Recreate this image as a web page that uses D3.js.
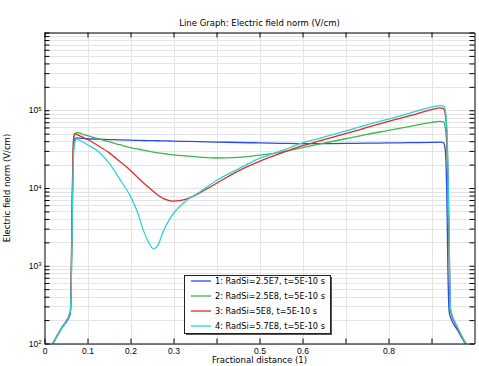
<!DOCTYPE html>
<html>
<head>
<meta charset="utf-8">
<script src="https://cdn.jsdelivr.net/npm/d3@7"></script>
<style>
  body { margin: 0; background: #fff; }
  svg { display: block; font-family: "DejaVu Sans", sans-serif; }
  .axis path, .axis line { stroke: #000; }
  .axis text { font-size: 8.5px; fill: #000; }
</style>
</head>
<body>
<svg id="chart" width="479" height="366"></svg>
<script>
// fractional distance, shared by all four curves
var xs = [0.0195, 0.04, 0.06, 0.062, 0.064, 0.066, 0.068, 0.071, 0.075, 0.08,
          0.1, 0.125, 0.15, 0.175, 0.2, 0.215, 0.23, 0.242, 0.2535, 0.265, 0.277, 0.29, 0.3, 0.33, 0.36,
          0.4, 0.45, 0.5, 0.55, 0.6, 0.65, 0.7, 0.75, 0.8, 0.85, 0.9,
          0.92, 0.928, 0.932, 0.936, 0.938, 0.941, 0.944, 0.96, 0.982];

var fieldRad25e7 = [100, 158, 240, 500, 3000, 1.5e4, 3.6e4, 4.3e4, 4.4e4, 4.38e4,
                    4.3e4, 4.25e4, 4.2e4, 4.15e4, 4.12e4, 4.1e4, 4.08e4, 4.07e4, 4.06e4, 4.05e4, 4.04e4, 4.02e4, 4.0e4, 3.97e4, 3.94e4,
                    3.9e4, 3.85e4, 3.8e4, 3.76e4, 3.72e4, 3.72e4, 3.74e4, 3.77e4, 3.8e4, 3.83e4, 3.86e4,
                    3.88e4, 3.8e4, 3.1e4, 6000, 1000, 260, 220, 150, 92];

var fieldRad25e8 = [100, 160, 250, 600, 4000, 2e4, 4.2e4, 5.0e4, 5.2e4, 5.1e4,
                    4.7e4, 4.3e4, 3.95e4, 3.6e4, 3.3e4, 3.18e4, 3.07e4, 2.98e4, 2.9e4, 2.83e4, 2.77e4, 2.71e4, 2.67e4, 2.58e4, 2.5e4,
                    2.43e4, 2.47e4, 2.65e4, 2.9e4, 3.3e4, 3.78e4, 4.3e4, 4.9e4, 5.5e4, 6.2e4, 7.0e4,
                    7.2e4, 7.1e4, 6.0e4, 3.0e4, 1.2e4, 1500, 270, 160, 95];

var fieldRad5e8 = [100, 160, 250, 700, 5000, 2.5e4, 4.5e4, 5.05e4, 4.9e4, 4.75e4,
                   4.2e4, 3.5e4, 2.85e4, 2.2e4, 1.68e4, 1.4e4, 1.17e4, 1.02e4, 9.0e3, 8.0e3, 7.3e3, 6.9e3, 6.78e3, 7.2e3, 8.6e3,
                   1.15e4, 1.65e4, 2.2e4, 2.8e4, 3.5e4, 4.2e4, 5.0e4, 6.0e4, 7.2e4, 8.5e4, 1.02e5,
                   1.07e5, 1.05e5, 9.0e4, 4.5e4, 1.8e4, 2000, 270, 160, 95];

var fieldRad57e8 = [100, 160, 255, 500, 2500, 1.2e4, 3.0e4, 4.0e4, 4.3e4, 4.15e4,
                    3.6e4, 2.95e4, 2.1e4, 1.3e4, 7.8e3, 5.1e3, 2.85e3, 2.0e3, 1.65e3, 1.9e3, 2.85e3, 3.9e3, 4.7e3, 6.9e3, 8.8e3,
                    1.25e4, 1.75e4, 2.4e4, 3.0e4, 3.8e4, 4.5e4, 5.4e4, 6.5e4, 7.7e4, 9.2e4, 1.1e5,
                    1.15e5, 1.14e5, 1.0e5, 5.5e4, 2.2e4, 2500, 280, 165, 95];

var seriesNames = ["1: RadSi=2.5E7, t=5E-10 s", "2: RadSi=2.5E8, t=5E-10 s",
                   "3: RadSi=5E8, t=5E-10 s", "4: RadSi=5.7E8, t=5E-10 s"];
var seriesColors = ["#2a4de2", "#3cb94a", "#dc2b2b", "#2bd3d6"];

var xTicks = [0, 0.1, 0.2, 0.3, 0.4, 0.5, 0.6, 0.7, 0.8, 0.9];
var xTickLabels = ["0", "0.1", "0.2", "0.3", "", "0.5", "0.6", "", "0.8", ""];
var yDecades = [2, 3, 4, 5];

var series = [fieldRad25e7, fieldRad25e8, fieldRad5e8, fieldRad57e8];

var svg = d3.select("#chart");
// note: "top" is taken by window.top, so use plot* names
var plotL = 44.5, plotR = 474.5, plotT = 32.5, plotB = 343.5;

var x = d3.scaleLinear().domain([0, 1]).range([plotL, plotR]);
var y = d3.scaleLog().domain([1e2, 1e6]).range([plotB, plotT]);

// log ticks: decades plus 2..9 minors
var yTicks = [];
for (var d = 2; d < 6; d++) {
  for (var m = 1; m < 10; m++) yTicks.push(m * Math.pow(10, d));
}
yTicks.push(1e6);

// grid
var grid = svg.append("g").attr("stroke", "#e4e4e4").attr("stroke-width", 1);
grid.selectAll("line.h").data(yTicks).enter().append("line")
  .attr("x1", plotL).attr("x2", plotR)
  .attr("y1", function(v) { return Math.round(y(v)) + 0.5; })
  .attr("y2", function(v) { return Math.round(y(v)) + 0.5; });
grid.selectAll("line.v").data(xTicks.slice(1)).enter().append("line")
  .attr("y1", plotT).attr("y2", plotB)
  .attr("x1", function(v) { return Math.round(x(v)) + 0.5; })
  .attr("x2", function(v) { return Math.round(x(v)) + 0.5; });

svg.append("clipPath").attr("id", "plotclip").append("rect")
  .attr("x", plotL).attr("y", plotT).attr("width", plotR - plotL).attr("height", plotB - plotT);

var line = d3.line()
  .x(function(p) { return x(p[0]); })
  .y(function(p) { return y(p[1]); })
  .curve(d3.curveMonotoneX);

svg.append("g").attr("clip-path", "url(#plotclip)")
  .selectAll("path").data(series).enter().append("path")
  .attr("fill", "none")
  .attr("stroke", function(s, i) { return seriesColors[i]; })
  .attr("stroke-width", 1.3)
  .attr("d", function(s) { return line(xs.map(function(xv, i) { return [xv, s[i]]; })); });

function isDecade(v) {
  var l = Math.log10(v);
  return Math.abs(l - Math.round(l)) < 1e-9 && yDecades.indexOf(Math.round(l)) >= 0;
}

// axes, ticks point inward
var xAxisB = d3.axisBottom(x).tickValues(xTicks).tickSizeInner(-5).tickSizeOuter(0).tickPadding(4)
  .tickFormat(function(v, i) { return xTickLabels[i]; });
var xAxisT = d3.axisTop(x).tickValues(xTicks).tickSizeInner(-5).tickSizeOuter(0).tickFormat("");
var yAxisL = d3.axisLeft(y).tickValues(yTicks).tickSizeInner(-5).tickSizeOuter(0).tickPadding(3)
  .tickFormat(function(v) { return isDecade(v) ? String(v) : ""; });
var yAxisR = d3.axisRight(y).tickValues(yTicks).tickSizeInner(-5).tickSizeOuter(0).tickFormat("");

svg.append("g").attr("class", "axis").attr("transform", "translate(0," + plotB + ")").call(xAxisB);
svg.append("g").attr("class", "axis").attr("transform", "translate(0," + plotT + ")").call(xAxisT);
var gy = svg.append("g").attr("class", "axis").attr("transform", "translate(" + plotL + ",0)").call(yAxisL);
svg.append("g").attr("class", "axis").attr("transform", "translate(" + plotR + ",0)").call(yAxisR);

// 10^n labels with superscript
gy.selectAll(".tick text").each(function(v) {
  var t = d3.select(this);
  if (!t.text()) return;
  var p = Math.round(Math.log10(v));
  t.text("");
  t.append("tspan").text("10");
  t.append("tspan").attr("dy", "-0.45em").attr("font-size", "6px").text(p);
});

svg.append("text").attr("x", (plotL + plotR) / 2).attr("y", 26)
  .attr("text-anchor", "middle").attr("font-size", "8.5px").text("Line Graph: Electric field norm (V/cm)");
svg.append("text").attr("x", (plotL + plotR) / 2).attr("y", 363)
  .attr("text-anchor", "middle").attr("font-size", "8.5px").text("Fractional distance (1)");
svg.append("text").attr("transform", "translate(10," + (plotT + plotB) / 2 + ") rotate(-90)")
  .attr("text-anchor", "middle").attr("font-size", "8.5px").text("Electric field norm (V/cm)");

// legend
var lg = svg.append("g").attr("transform", "translate(184,275)");
lg.append("rect").attr("x", 2).attr("y", 2).attr("width", 146).attr("height", 58).attr("fill", "#555");
lg.append("rect").attr("x", 0.5).attr("y", 0.5).attr("width", 146).attr("height", 58)
  .attr("fill", "#fff").attr("stroke", "#222");
var rows = lg.selectAll("g.row").data(seriesNames).enter().append("g")
  .attr("transform", function(n, i) { return "translate(0," + (6 + i * 15) + ")"; });
rows.append("line").attr("x1", 7).attr("x2", 27).attr("y1", 0).attr("y2", 0)
  .attr("stroke", function(n, i) { return seriesColors[i]; }).attr("stroke-width", 1.3);
rows.append("text").attr("x", 31).attr("y", 3).attr("font-size", "8.2px").text(function(n) { return n; });
</script>
</body>
</html>
